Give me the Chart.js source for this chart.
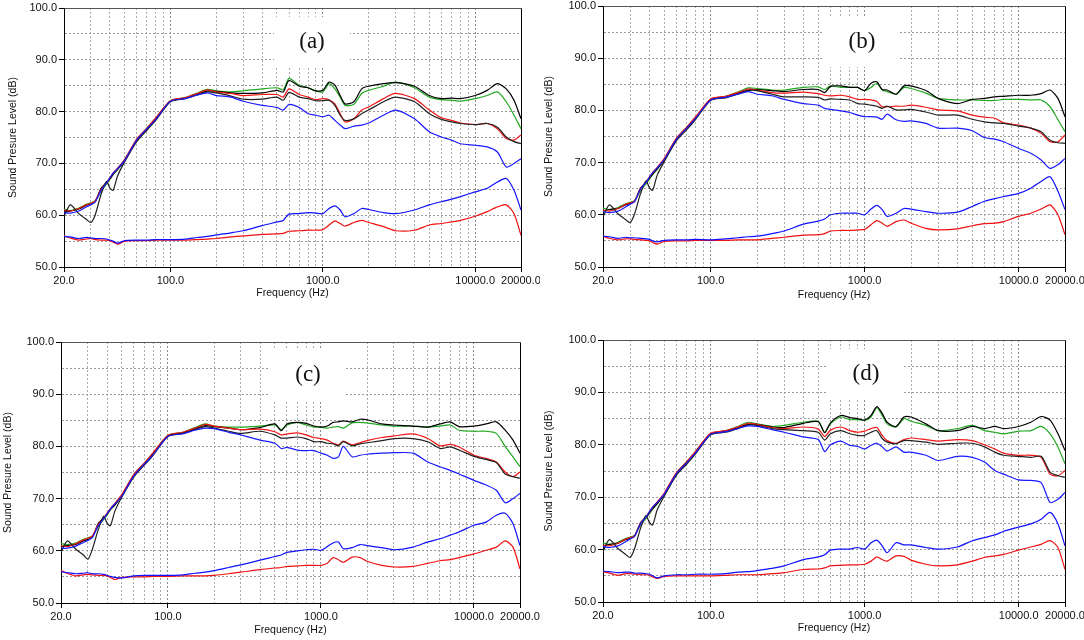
<!DOCTYPE html>
<html>
<head>
<meta charset="utf-8">
<script src="https://cdn.jsdelivr.net/npm/chart.js@4.4.1/dist/chart.umd.min.js"></script>
<style>
  html, body { margin: 0; padding: 0; background: #fff; }
  #wrap { position: relative; width: 1084px; height: 640px; overflow: hidden; background: #fff; }
  #wrap canvas { position: absolute; }
</style>
</head>
<body>
<div id="wrap"></div>
<script>
// ==================== DATA ====================
const freq = [20, 22, 25, 28, 30, 32, 35, 38, 40, 42, 45, 50, 60, 70, 80, 100, 125, 150, 175, 200, 250, 300, 400, 500, 550, 600, 700, 800, 900, 1000, 1100, 1200, 1300, 1400, 1600, 1800, 2000, 2500, 3000, 4000, 5000, 6000, 7000, 8000, 10000, 12000, 14000, 16000, 18000, 20000];
const gridFreq = [20, 30, 40, 50, 60, 70, 80, 90, 100, 200, 300, 400, 500, 600, 700, 800, 900, 1000, 2000, 3000, 4000, 5000, 6000, 7000, 8000, 9000, 10000, 20000];
const freqLabels = [20, 100, 1000, 10000, 20000];
const levelTicks = [50, 55, 60, 65, 70, 75, 80, 85, 90, 95, 100];
const levelLabels = [50, 60, 70, 80, 90, 100];
const panelTags = ['(a)', '(b)', '(c)', '(d)'];

// (a)
const aBlackTop = [60.6, 60.8, 61.2, 61.9, 62.2, 62.6, 65.2, 66.3, 67.0, 67.9, 68.9, 70.5, 74.4, 76.6, 78.5, 82.0, 82.6, 83.4, 84.0, 83.9, 83.6, 83.5, 83.6, 84.1, 83.8, 86.0, 84.9, 84.6, 84.0, 84.1, 85.7, 85.1, 83.1, 81.5, 81.9, 84.4, 84.9, 85.4, 85.6, 84.9, 83.1, 82.5, 82.6, 82.5, 83.1, 84.1, 85.4, 84.4, 82.2, 78.6];
const aGreen    = [61.2, 60.9, 61.4, 62.1, 62.4, 62.8, 64.6, 66.0, 66.9, 67.8, 68.8, 70.6, 74.6, 76.8, 78.7, 82.1, 82.7, 83.6, 84.3, 84.0, 83.8, 84.0, 84.4, 84.6, 84.2, 86.4, 85.1, 84.6, 84.0, 83.8, 85.4, 84.4, 82.8, 81.2, 81.4, 83.5, 84.1, 84.9, 85.7, 84.6, 82.8, 82.3, 82.2, 82.0, 82.5, 83.1, 83.8, 81.9, 79.3, 76.7];
const aRed      = [61.0, 60.8, 61.3, 62.0, 62.3, 62.7, 65.0, 66.3, 67.2, 68.1, 69.1, 70.8, 74.7, 76.8, 78.8, 82.1, 82.7, 83.5, 84.2, 83.8, 83.5, 83.1, 83.3, 83.3, 82.8, 84.4, 83.3, 82.8, 82.3, 82.5, 82.3, 81.5, 79.6, 78.0, 78.6, 80.3, 80.9, 82.5, 83.5, 82.5, 80.3, 78.8, 78.3, 77.8, 77.5, 77.7, 76.7, 74.8, 74.5, 75.5];
const aBlackLow = [59.8, 62.0, 60.3, 59.2, 58.6, 60.0, 64.0, 66.5, 65.3, 64.8, 67.6, 70.3, 74.2, 76.4, 78.3, 81.9, 82.5, 83.2, 83.8, 83.6, 83.0, 82.4, 82.4, 82.8, 82.2, 83.7, 82.8, 82.5, 82.1, 82.1, 82.2, 81.2, 79.3, 78.3, 78.6, 79.6, 80.3, 81.9, 82.8, 81.9, 79.6, 78.5, 78.0, 77.7, 77.5, 77.7, 77.0, 75.1, 74.2, 73.8];
const aBlue     = [60.5, 60.4, 60.8, 61.6, 62.0, 62.5, 64.8, 66.2, 67.2, 68.1, 69.0, 70.6, 74.5, 76.7, 78.5, 82.0, 82.5, 83.2, 83.6, 83.1, 82.8, 82.0, 81.2, 80.8, 80.3, 81.4, 80.8, 79.6, 79.3, 79.0, 79.3, 78.3, 77.4, 76.7, 77.2, 77.4, 77.8, 79.3, 80.3, 78.6, 76.1, 75.1, 74.5, 73.8, 73.5, 73.2, 72.2, 69.3, 70.0, 70.9];
const aBlueLow  = [55.9, 55.8, 55.5, 55.7, 55.6, 55.5, 55.5, 55.4, 55.2, 55.0, 54.6, 55.1, 55.2, 55.2, 55.3, 55.3, 55.4, 55.7, 55.9, 56.2, 56.6, 57.0, 58.0, 58.7, 59.0, 60.2, 60.3, 60.5, 60.4, 60.3, 61.3, 61.8, 61.0, 59.7, 60.3, 61.3, 61.1, 60.5, 60.3, 61.0, 62.0, 62.6, 63.1, 63.6, 64.5, 65.2, 66.4, 67.1, 64.8, 61.0];
const aRedLow   = [56.0, 55.6, 55.2, 55.4, 55.5, 55.3, 55.2, 55.2, 55.1, 54.8, 54.4, 55.0, 55.1, 55.1, 55.2, 55.2, 55.2, 55.3, 55.4, 55.5, 55.8, 56.0, 56.3, 56.4, 56.5, 56.9, 57.0, 57.1, 57.1, 57.2, 58.1, 58.9, 58.4, 57.9, 58.6, 59.0, 58.6, 57.8, 57.0, 57.1, 58.1, 58.4, 58.7, 59.0, 59.8, 60.7, 61.6, 62.0, 60.3, 56.1];

// (b)
const bBlackTop = [60.7, 61.0, 61.2, 61.9, 62.2, 62.5, 65.1, 66.2, 67.0, 67.8, 68.8, 70.5, 74.4, 76.6, 78.5, 82.0, 82.6, 83.3, 83.9, 84.0, 83.8, 83.6, 84.0, 84.0, 83.4, 84.6, 84.7, 84.4, 84.4, 83.8, 85.2, 85.5, 84.0, 83.9, 83.1, 84.7, 84.7, 83.8, 82.3, 81.3, 82.1, 82.3, 82.6, 82.7, 82.9, 82.9, 83.2, 83.9, 82.3, 78.8];
const bGreen    = [61.3, 61.0, 61.4, 62.1, 62.4, 62.7, 64.6, 65.9, 66.8, 67.7, 68.7, 70.6, 74.6, 76.8, 78.7, 82.1, 82.7, 83.5, 84.3, 84.2, 83.9, 83.9, 84.4, 84.5, 84.0, 84.7, 84.4, 84.4, 84.4, 83.8, 84.4, 85.2, 83.9, 83.6, 83.1, 84.4, 84.2, 83.3, 82.3, 82.0, 82.0, 81.9, 81.9, 82.1, 82.1, 82.0, 82.0, 80.7, 78.2, 75.9];
const bRed      = [60.9, 60.7, 61.2, 62.0, 62.3, 62.6, 65.0, 66.3, 67.2, 68.1, 69.1, 70.8, 74.7, 76.8, 78.8, 82.2, 82.7, 83.4, 84.1, 83.9, 83.4, 83.3, 83.5, 83.2, 82.9, 82.8, 82.9, 82.6, 82.1, 82.1, 82.0, 81.7, 80.7, 80.7, 80.8, 80.8, 81.0, 80.6, 80.1, 79.9, 79.1, 78.7, 78.5, 77.6, 77.2, 76.6, 75.6, 74.0, 74.0, 75.3];
const bBlackLow = [59.6, 61.9, 60.2, 59.1, 58.5, 60.1, 64.0, 66.5, 65.2, 64.7, 67.6, 70.2, 74.2, 76.3, 78.3, 81.9, 82.4, 83.1, 83.8, 83.8, 83.1, 82.6, 82.6, 82.5, 82.0, 82.2, 82.1, 82.0, 81.3, 81.2, 81.0, 80.8, 80.4, 80.8, 80.1, 80.1, 80.2, 79.7, 79.1, 79.1, 78.3, 77.8, 77.6, 77.5, 77.0, 76.6, 75.9, 74.3, 73.8, 73.7];
const bBlue     = [60.6, 60.4, 60.7, 61.5, 62.0, 62.5, 64.9, 66.2, 67.2, 68.1, 69.0, 70.6, 74.5, 76.6, 78.5, 82.0, 82.5, 83.1, 83.6, 83.1, 82.8, 82.1, 81.3, 81.0, 80.4, 80.2, 79.9, 79.6, 79.1, 78.8, 78.8, 78.7, 78.3, 79.3, 78.2, 77.9, 78.0, 77.5, 76.6, 76.6, 76.1, 74.8, 74.5, 74.0, 72.7, 71.8, 70.5, 68.9, 69.6, 70.8];
const bBlueLow  = [55.9, 55.8, 55.5, 55.7, 55.6, 55.6, 55.5, 55.4, 55.3, 55.0, 54.8, 55.1, 55.2, 55.2, 55.3, 55.2, 55.4, 55.6, 55.8, 55.9, 56.4, 56.9, 58.2, 58.8, 59.2, 60.0, 60.3, 60.3, 60.3, 60.0, 61.1, 61.8, 61.0, 59.7, 60.3, 61.2, 61.1, 60.6, 60.3, 60.5, 61.6, 62.6, 63.1, 63.5, 64.1, 65.1, 66.4, 67.3, 64.5, 61.0];
const bRedLow   = [55.9, 55.5, 55.2, 55.4, 55.4, 55.3, 55.2, 55.1, 55.0, 54.7, 54.4, 54.9, 55.0, 55.0, 55.1, 55.1, 55.1, 55.2, 55.2, 55.2, 55.5, 55.7, 56.1, 56.2, 56.4, 56.9, 57.0, 57.0, 57.1, 57.2, 58.1, 58.9, 58.4, 57.8, 58.7, 59.0, 58.4, 57.4, 57.1, 57.3, 57.9, 58.3, 58.4, 58.7, 59.7, 60.3, 61.1, 61.9, 60.0, 56.2];

// (c)
const cBlackTop = [60.8, 61.0, 61.2, 61.9, 62.2, 62.6, 65.2, 66.3, 67.0, 67.9, 68.8, 70.5, 74.4, 76.6, 78.5, 82.0, 82.6, 83.4, 84.0, 83.8, 83.5, 83.2, 83.6, 84.3, 83.0, 84.3, 84.6, 84.4, 83.9, 83.7, 83.9, 84.6, 84.7, 84.9, 84.7, 85.2, 85.1, 84.3, 84.1, 83.9, 83.7, 84.3, 84.7, 83.8, 83.9, 84.3, 84.7, 83.1, 81.2, 78.7];
const cGreen    = [61.4, 61.2, 61.5, 62.2, 62.5, 62.8, 64.7, 66.0, 66.9, 67.8, 68.8, 70.6, 74.6, 76.8, 78.7, 82.1, 82.7, 83.6, 84.3, 83.9, 83.7, 83.7, 83.9, 84.1, 83.2, 84.1, 84.6, 84.1, 83.7, 83.7, 83.5, 83.7, 83.8, 83.5, 84.5, 84.6, 84.5, 84.1, 83.9, 83.9, 83.7, 83.9, 84.1, 83.1, 82.9, 82.9, 82.5, 80.0, 78.0, 76.1];
const cRed      = [61.0, 60.8, 61.4, 62.1, 62.4, 62.8, 65.0, 66.3, 67.2, 68.1, 69.1, 70.8, 74.7, 76.8, 78.8, 82.1, 82.7, 83.5, 84.2, 83.9, 83.5, 83.2, 83.3, 82.8, 82.2, 82.4, 82.6, 82.2, 81.7, 81.5, 81.2, 80.6, 80.3, 81.0, 80.3, 80.7, 81.1, 81.7, 82.0, 82.4, 81.5, 80.1, 80.4, 79.9, 78.3, 77.7, 77.0, 75.1, 74.2, 75.1];
const cBlackLow = [59.7, 61.9, 60.3, 59.2, 58.4, 60.2, 64.0, 66.6, 65.3, 64.8, 67.6, 70.3, 74.2, 76.4, 78.3, 81.9, 82.5, 83.2, 83.8, 83.5, 82.9, 82.5, 82.9, 82.2, 81.6, 81.6, 81.8, 81.5, 80.9, 80.9, 80.6, 80.5, 80.1, 80.9, 80.1, 80.5, 80.7, 81.1, 81.5, 81.5, 80.9, 79.6, 79.9, 79.3, 78.1, 77.5, 76.9, 74.7, 74.2, 73.9];
const cBlue     = [60.5, 60.5, 60.9, 61.6, 62.0, 62.5, 64.8, 66.1, 67.1, 68.0, 69.0, 70.5, 74.4, 76.6, 78.4, 81.9, 82.4, 83.1, 83.5, 83.4, 82.7, 82.2, 81.2, 80.6, 79.6, 79.8, 79.3, 79.2, 79.2, 78.7, 78.3, 77.7, 78.0, 80.0, 78.0, 78.3, 78.5, 78.7, 78.8, 78.7, 77.0, 76.1, 75.4, 74.7, 73.5, 72.6, 71.6, 69.2, 70.0, 71.0];
const cBlueLow  = [56.0, 55.8, 55.6, 55.7, 55.8, 55.6, 55.6, 55.5, 55.3, 55.1, 54.9, 54.8, 55.2, 55.3, 55.3, 55.3, 55.4, 55.7, 55.9, 56.2, 56.8, 57.3, 58.2, 58.9, 59.2, 59.7, 60.0, 60.2, 60.3, 60.1, 60.8, 61.5, 61.7, 60.4, 60.6, 61.2, 61.0, 60.6, 60.2, 60.7, 61.7, 62.3, 63.0, 63.6, 64.9, 65.5, 66.8, 67.2, 65.2, 61.0];
const cRedLow   = [56.2, 55.7, 55.2, 55.4, 55.5, 55.4, 55.3, 55.3, 55.2, 54.9, 54.5, 54.9, 55.0, 55.0, 55.1, 55.1, 55.2, 55.2, 55.2, 55.3, 55.6, 55.9, 56.4, 56.7, 56.8, 57.0, 57.1, 57.2, 57.2, 57.2, 57.6, 58.7, 58.3, 57.8, 58.8, 58.7, 58.0, 57.2, 56.9, 57.0, 57.6, 58.1, 58.3, 58.7, 59.4, 60.1, 60.7, 61.9, 60.7, 56.5];

// (d)
const dBlackTop = [60.7, 61.0, 61.2, 61.9, 62.2, 62.5, 65.1, 66.2, 67.0, 67.8, 68.8, 70.5, 74.4, 76.6, 78.5, 82.0, 82.6, 83.3, 83.9, 83.9, 83.4, 83.3, 84.1, 84.4, 82.3, 84.2, 85.6, 85.2, 85.0, 84.7, 85.6, 87.3, 86.0, 84.3, 83.5, 85.3, 85.3, 84.0, 82.7, 82.7, 83.5, 83.1, 83.5, 83.1, 83.5, 84.3, 85.4, 84.7, 82.1, 78.9];
const dGreen    = [61.3, 61.0, 61.4, 62.1, 62.4, 62.7, 64.6, 65.9, 66.8, 67.7, 68.7, 70.6, 74.6, 76.8, 78.7, 82.1, 82.7, 83.5, 84.3, 84.0, 83.5, 83.7, 84.3, 84.5, 82.4, 84.0, 85.3, 84.8, 84.8, 84.7, 85.3, 87.1, 85.6, 84.0, 83.4, 85.0, 84.5, 83.7, 82.7, 83.1, 83.7, 82.7, 82.4, 82.1, 82.6, 82.7, 83.5, 82.1, 79.6, 76.4];
const dRed      = [60.9, 60.7, 61.2, 62.0, 62.3, 62.6, 65.0, 66.3, 67.2, 68.1, 69.1, 70.8, 74.7, 76.8, 78.8, 82.2, 82.7, 83.4, 84.1, 83.9, 83.3, 83.1, 83.4, 83.0, 81.6, 82.8, 83.4, 82.7, 82.4, 82.6, 83.1, 83.3, 81.8, 80.8, 80.3, 81.0, 81.3, 81.0, 80.7, 81.0, 80.8, 80.0, 79.2, 78.4, 78.0, 78.0, 77.6, 74.4, 74.1, 75.1];
const dBlackLow = [59.6, 61.9, 60.2, 59.1, 58.5, 60.1, 64.0, 66.5, 65.2, 64.7, 67.6, 70.2, 74.2, 76.3, 78.3, 81.9, 82.4, 83.1, 83.8, 83.7, 83.1, 82.9, 82.7, 82.4, 80.9, 82.1, 82.7, 82.1, 81.8, 81.8, 82.4, 82.7, 81.2, 80.5, 80.2, 80.8, 80.8, 80.5, 80.1, 80.3, 80.3, 79.6, 78.6, 78.0, 77.8, 77.6, 77.8, 74.8, 74.1, 73.8];
const dBlue     = [60.6, 60.4, 60.7, 61.5, 62.0, 62.5, 64.9, 66.2, 67.2, 68.1, 69.0, 70.6, 74.5, 76.6, 78.5, 82.0, 82.5, 83.1, 83.6, 83.5, 82.9, 82.4, 81.5, 81.0, 78.7, 80.0, 80.7, 79.9, 79.7, 79.2, 79.9, 80.3, 79.6, 78.8, 79.6, 78.6, 78.6, 78.0, 77.0, 77.8, 77.6, 76.7, 75.1, 74.4, 73.3, 73.2, 72.8, 69.0, 69.6, 70.9];
const dBlueLow  = [55.9, 55.8, 55.6, 55.7, 55.7, 55.5, 55.5, 55.4, 55.3, 55.0, 54.6, 55.0, 55.2, 55.2, 55.3, 55.3, 55.4, 55.7, 55.8, 56.0, 56.4, 56.9, 58.1, 58.6, 59.0, 59.9, 60.1, 60.1, 60.4, 60.1, 61.3, 61.8, 60.7, 59.4, 61.3, 60.9, 60.9, 60.4, 60.1, 60.5, 61.7, 62.3, 62.8, 63.5, 64.3, 64.9, 65.8, 67.1, 64.9, 60.7];
const dRedLow   = [55.8, 55.5, 55.1, 55.4, 55.4, 55.3, 55.2, 55.2, 55.1, 54.8, 54.5, 54.9, 55.0, 55.0, 55.0, 55.0, 55.1, 55.2, 55.2, 55.2, 55.4, 55.6, 56.2, 56.3, 56.5, 56.9, 57.0, 57.1, 57.1, 57.2, 57.8, 58.6, 58.1, 57.8, 58.8, 58.7, 58.0, 57.2, 56.9, 57.1, 57.8, 58.5, 58.8, 59.1, 59.9, 60.5, 61.0, 61.7, 60.4, 56.2];

// ==================== LAYOUT ====================
// box: canvas left/top/width/height; area: plot left/right/top/bottom (page px)
const panels = [
  { tag: panelTags[0], box: [0, 0, 540, 320],   area: [64, 521, 8, 267],   yTitleX: 13,  xTitleY: 293, tagAt: [312, 42],
    lines: [aBlueLow, aRedLow, aBlue, aBlackLow, aRed, aBlackTop, aGreen] },
  { tag: panelTags[1], box: [540, 0, 544, 320], area: [603, 1065, 6, 267], yTitleX: 549, xTitleY: 295, tagAt: [862, 42],
    lines: [bBlueLow, bRedLow, bBlue, bBlackLow, bRed, bBlackTop, bGreen] },
  { tag: panelTags[2], box: [0, 320, 540, 320], area: [61, 520, 342, 603], yTitleX: 8,  xTitleY: 630, tagAt: [308, 375],
    lines: [cBlueLow, cRedLow, cBlue, cBlackLow, cRed, cBlackTop, cGreen] },
  { tag: panelTags[3], box: [540, 320, 544, 320], area: [603, 1065, 340, 602], yTitleX: 549, xTitleY: 628, tagAt: [866, 374],
    lines: [dBlueLow, dRedLow, dBlue, dBlackLow, dRed, dBlackTop, dGreen] }
];
const lineColors = ['#1010ff', '#f01010', '#1a1aff', '#202020', '#f21515', '#000000', '#22a822'];

const FONT = '"Liberation Sans", Arial, sans-serif';
const TICK_FONT = { family: FONT, size: 11 };
const TITLE_FONT = { family: FONT, size: 10.5, lineHeight: 1.2 };

// white box with panel letter, and the closing frame of the plot
const tagPlugin = {
  id: 'panelTag',
  beforeDatasetsDraw(chart, args, opts) {
    const ctx = chart.ctx;
    ctx.save();
    ctx.fillStyle = '#fff';
    ctx.fillRect(opts.x - 38, opts.y - 25, 76, 50);
    ctx.fillStyle = '#111';
    ctx.font = '23px "Liberation Serif", "Times New Roman", serif';
    ctx.textAlign = 'center';
    ctx.textBaseline = 'middle';
    ctx.fillText(opts.text, opts.x, opts.y);
    ctx.restore();
  },
  afterDraw(chart) {
    const { ctx, chartArea: a } = chart;
    ctx.save();
    ctx.lineWidth = 1;
    ctx.strokeStyle = '#555';
    ctx.beginPath();
    ctx.moveTo(Math.round(a.left) + 0.5, Math.round(a.top) + 0.5);
    ctx.lineTo(Math.round(a.right) + 0.5, Math.round(a.top) + 0.5);
    ctx.stroke();
    ctx.strokeStyle = '#000';
    ctx.beginPath();
    ctx.moveTo(Math.round(a.right) + 0.5, Math.round(a.top) + 0.5);
    ctx.lineTo(Math.round(a.right) + 0.5, Math.round(a.bottom) + 0.5);
    ctx.stroke();
    ctx.restore();
  }
};

function makePanel(p) {
  const [cl, ct, cw, ch] = p.box;
  const [L, R, T, B] = p.area;
  const cv = document.createElement('canvas');
  cv.width = cw; cv.height = ch;
  cv.style.left = cl + 'px'; cv.style.top = ct + 'px';
  cv.style.width = cw + 'px'; cv.style.height = ch + 'px';
  document.getElementById('wrap').appendChild(cv);

  const lh = TITLE_FONT.size * TITLE_FONT.lineHeight;
  new Chart(cv.getContext('2d'), {
    type: 'line',
    data: {
      datasets: p.lines.map((arr, i) => ({
        data: freq.map((f, j) => ({ x: f, y: arr[j] })),
        borderColor: lineColors[i],
        borderWidth: 1.2,
        pointRadius: 0,
        tension: 0.25,
        fill: false
      }))
    },
    options: {
      responsive: false,
      animation: false,
      devicePixelRatio: 1,
      layout: { padding: { left: 0, top: T - ct, right: cl + cw - R, bottom: 0 } },
      plugins: {
        legend: { display: false },
        tooltip: { enabled: false },
        panelTag: { text: p.tag, x: p.tagAt[0] - cl, y: p.tagAt[1] - ct }
      },
      scales: {
        x: {
          type: 'logarithmic', min: 20, max: 20000,
          afterBuildTicks: s => { s.ticks = gridFreq.map(v => ({ value: v })); },
          afterFit: s => { s.height = ct + ch - B; s.paddingLeft = 0; s.paddingRight = 0; },
          ticks: {
            autoSkip: false, maxRotation: 0, minRotation: 0, padding: 2, color: '#111', font: TICK_FONT,
            callback: v => freqLabels.includes(v) ? v.toFixed(1) : ''
          },
          grid: {
            color: c => (c.tick && [100, 1000, 10000].includes(c.tick.value)) ? '#8a8a8a' : '#ababab',
            lineWidth: 1, tickLength: 5, tickBorderDash: [],
            tickColor: c => (c.tick && freqLabels.includes(c.tick.value)) ? '#000' : 'rgba(0,0,0,0)'
          },
          border: { color: '#000', width: 1, dash: [2, 2] },
          title: {
            display: true, text: 'Frequency (Hz)', color: '#111', font: TITLE_FONT,
            padding: { top: 0, bottom: ct + ch - p.xTitleY - lh / 2 }
          }
        },
        y: {
          min: 50, max: 100,
          afterBuildTicks: s => { s.ticks = levelTicks.map(v => ({ value: v })); },
          afterFit: s => { s.width = L - cl; s.paddingTop = 0; s.paddingBottom = 0; },
          ticks: {
            autoSkip: false, padding: 2, color: '#111', font: TICK_FONT,
            callback: v => levelLabels.includes(v) ? v.toFixed(1) : ''
          },
          grid: {
            color: '#9a9a9a', lineWidth: 1, tickLength: 5, tickBorderDash: [],
            tickColor: c => (c.tick && levelLabels.includes(c.tick.value)) ? '#000' : 'rgba(0,0,0,0)'
          },
          border: { color: '#000', width: 1, dash: [2, 2] },
          title: {
            display: true, text: 'Sound Presure Level (dB)', color: '#111', font: TITLE_FONT,
            padding: { top: p.yTitleX - cl - lh / 2, bottom: 0 }
          }
        }
      }
    },
    plugins: [tagPlugin]
  });
}

panels.forEach(makePanel);
</script>
</body>
</html>
